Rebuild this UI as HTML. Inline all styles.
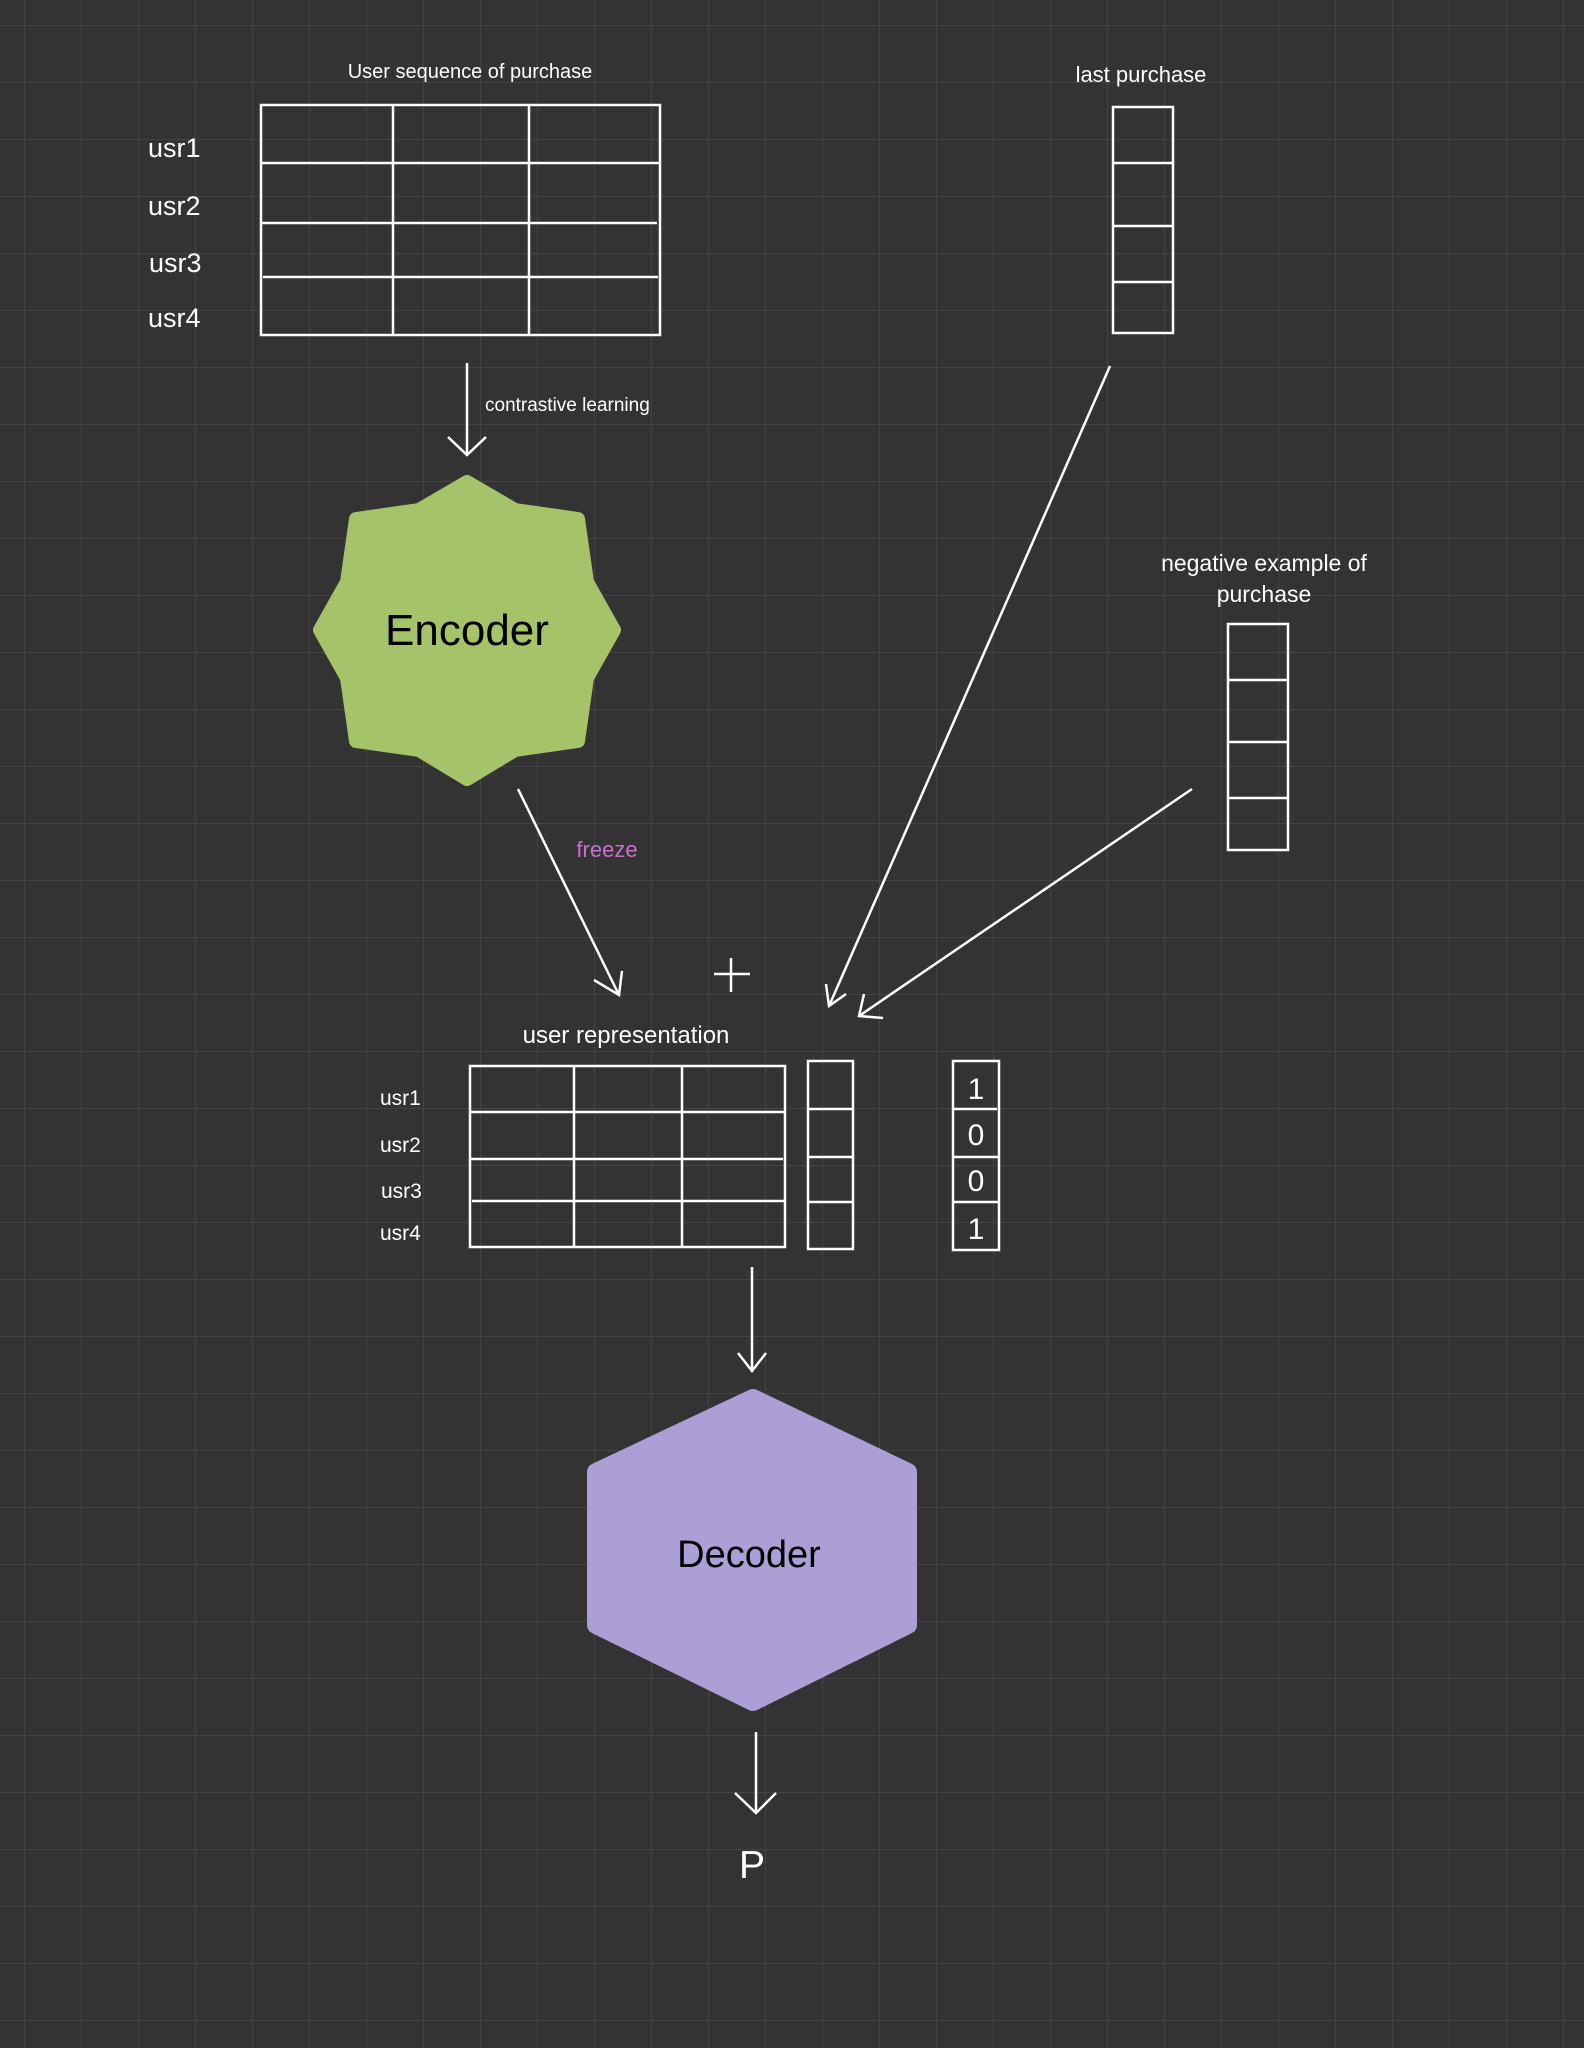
<!DOCTYPE html>
<html><head><meta charset="utf-8"><style>
html,body{margin:0;padding:0;background:#333333;}
svg{display:block}
text{font-family:"Liberation Sans",sans-serif;}
</style></head><body>
<svg width="1584" height="2048" viewBox="0 0 1584 2048" xmlns="http://www.w3.org/2000/svg">
<defs>
<pattern id="g" x="24" y="25" width="57" height="57" patternUnits="userSpaceOnUse">
<path d="M0 0H57M0 0V57" stroke="#444444" stroke-width="2" fill="none"/>
</pattern>
</defs>
<rect width="1584" height="2048" fill="#333333"/>
<rect width="1584" height="2048" fill="url(#g)"/>

<g stroke="#fff" stroke-width="2.5" fill="none">
<!-- top table -->
<rect x="261" y="105" width="399" height="230"/>
<line x1="393" y1="105" x2="393" y2="335"/><line x1="529" y1="105" x2="529" y2="335"/>
<line x1="261" y1="163" x2="660" y2="163"/><line x1="261" y1="223" x2="657" y2="223"/><line x1="263" y1="277" x2="658" y2="277"/>
<!-- last purchase -->
<rect x="1113" y="107" width="60" height="226"/>
<line x1="1113" y1="163" x2="1173" y2="163"/><line x1="1113" y1="226" x2="1173" y2="226"/><line x1="1113" y1="282" x2="1173" y2="282"/>
<!-- negative -->
<rect x="1228" y="624" width="60" height="226"/>
<line x1="1228" y1="680" x2="1288" y2="680"/><line x1="1228" y1="742" x2="1288" y2="742"/><line x1="1228" y1="798" x2="1288" y2="798"/>
<!-- user rep table -->
<rect x="470" y="1066" width="315" height="181"/>
<line x1="574" y1="1066" x2="574" y2="1247"/><line x1="682" y1="1066" x2="682" y2="1247"/>
<line x1="470" y1="1112" x2="785" y2="1112"/><line x1="470" y1="1159" x2="783" y2="1159"/><line x1="472" y1="1201" x2="784" y2="1201"/>
<!-- col -->
<rect x="808" y="1061" width="45" height="188"/>
<line x1="808" y1="1109" x2="852" y2="1109"/><line x1="808" y1="1157" x2="852" y2="1157"/><line x1="808" y1="1202" x2="852" y2="1202"/>
<!-- label col -->
<rect x="953" y="1061" width="46" height="189"/>
<line x1="953" y1="1109" x2="997" y2="1109"/><line x1="953" y1="1157" x2="998" y2="1157"/><line x1="953" y1="1202" x2="998" y2="1202"/>

<!-- arrows -->
<line x1="467" y1="363" x2="467" y2="455"/><polyline points="448,437 467,455 486,437"/>
<line x1="1110" y1="366" x2="829" y2="1006"/><polyline points="826,984 829,1006 846,994"/>
<line x1="1192" y1="789" x2="859" y2="1016"/><polyline points="864,994 859,1016 883,1018"/>
<line x1="518" y1="789" x2="619" y2="995"/><polyline points="594,980 619,995 622,971"/>
<line x1="752" y1="1267" x2="752" y2="1371"/><polyline points="738,1353 752,1371 766,1353"/>
<line x1="756" y1="1732" x2="756" y2="1813"/><polyline points="735,1793 756,1813 776,1793"/>
<line x1="731" y1="958" x2="731" y2="992"/><line x1="714" y1="974" x2="750" y2="974"/>
</g>

<!-- encoder star -->
<polygon fill="#a5c46a" stroke="#a5c46a" stroke-width="14" stroke-linejoin="round"
points="467,482 515,510 578,519 587,582 614,630 587,678 578,741 515,750 467,779 419,750 356,741 347,678 320,630 347,582 356,519 419,510"/>
<text x="467" y="645" font-size="44" text-anchor="middle" fill="#000">Encoder</text>

<!-- decoder hex -->
<polygon fill="#ab9fd5" stroke="#ab9fd5" stroke-width="18" stroke-linejoin="round"
points="753,1398 908,1472 908,1625 753,1702 596,1625 596,1472"/>
<text x="749" y="1567" font-size="38" text-anchor="middle" fill="#000">Decoder</text>

<g fill="#fff">
<text x="470" y="78" font-size="20" text-anchor="middle">User sequence of purchase</text>
<text x="148" y="157" font-size="27">usr1</text>
<text x="148" y="215" font-size="27">usr2</text>
<text x="149" y="272" font-size="27">usr3</text>
<text x="148" y="327" font-size="27">usr4</text>
<text x="485" y="411" font-size="19">contrastive learning</text>
<text x="1141" y="82" font-size="22" text-anchor="middle">last purchase</text>
<text x="1264" y="571" font-size="23" text-anchor="middle">negative example of</text>
<text x="1264" y="602" font-size="23" text-anchor="middle">purchase</text>
<text x="626" y="1043" font-size="24" text-anchor="middle">user representation</text>
<text x="380" y="1105" font-size="21">usr1</text>
<text x="380" y="1152" font-size="21">usr2</text>
<text x="381" y="1198" font-size="21">usr3</text>
<text x="380" y="1240" font-size="21">usr4</text>
<text x="976" y="1099" font-size="30" text-anchor="middle">1</text>
<text x="976" y="1145" font-size="30" text-anchor="middle">0</text>
<text x="976" y="1191" font-size="30" text-anchor="middle">0</text>
<text x="976" y="1239" font-size="30" text-anchor="middle">1</text>
<text x="752" y="1878" font-size="39" text-anchor="middle">P</text>
</g>
<text x="607" y="857" font-size="22" text-anchor="middle" fill="#c86fc9">freeze</text>
</svg>
</body></html>
